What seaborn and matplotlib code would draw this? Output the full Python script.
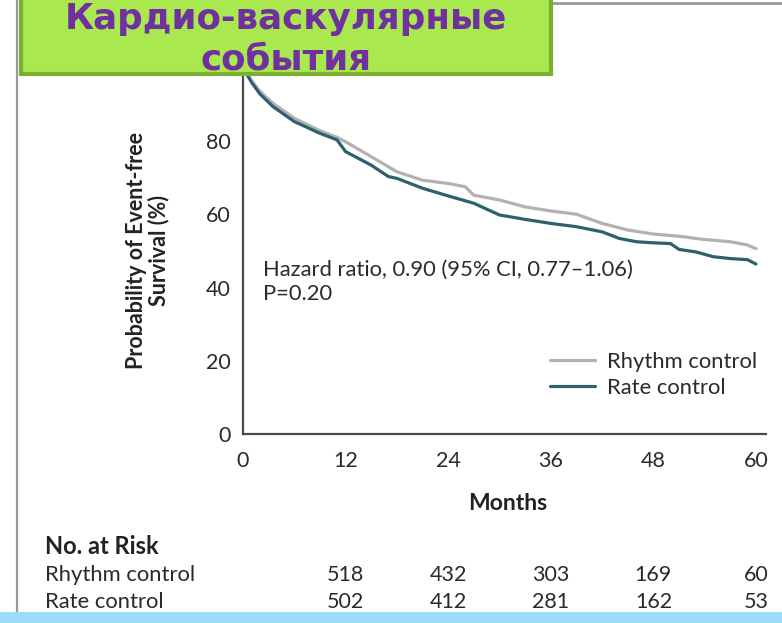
import matplotlib
matplotlib.use("Agg")
import matplotlib.pyplot as plt
from matplotlib.patches import Rectangle
from matplotlib.lines import Line2D
import matplotlib.transforms as mtransforms
import pandas as pd
import seaborn as sns

# Kaplan-Meier style event-free survival (%), by month
rhythm_months = [0, 1, 2, 3.5, 6, 9, 11, 12, 15, 18, 21, 24, 26, 27, 30, 33, 36, 39, 42, 45, 48, 51, 54, 57, 59, 60]
rhythm_surv = [100, 96.5, 93.5, 90.3, 86.2, 82.8, 81.0, 79.8, 75.7, 71.6, 69.3, 68.4, 67.5, 65.2, 63.9, 62.0, 60.9, 60.0, 57.5, 55.7, 54.6, 54.0, 53.1, 52.5, 51.6, 50.6]

rate_months = [0, 1, 2, 3.5, 6, 9, 11, 12, 15, 17, 18, 21, 24, 27, 30, 33, 36, 39, 42, 44, 46, 48, 50, 51, 53, 55, 57, 59, 60]
rate_surv = [100, 96.0, 92.8, 89.4, 85.3, 82.1, 80.3, 77.1, 73.4, 70.3, 69.8, 67.1, 65.0, 63.0, 59.8, 58.6, 57.5, 56.6, 55.2, 53.4, 52.5, 52.2, 52.0, 50.4, 49.7, 48.4, 47.9, 47.6, 46.4]

groups = ["Rhythm control", "Rate control"]
group_colors = ["#b2b2b2", "#2d6170"]

x_ticks = [0, 12, 24, 36, 48, 60]
y_ticks = [0, 20, 40, 60, 80]

risk_months = [12, 24, 36, 48, 60]
risk_rhythm = [518, 432, 303, 169, 60]
risk_rate = [502, 412, 281, 162, 53]

title_lines = ["Кардио-васкулярные", "события"]
hazard_text = "Hazard ratio, 0.90 (95% CI, 0.77\u20131.06)\nP=0.20"

sns.set_theme(style="white")
plt.rcParams["font.family"] = ["Lato", "DejaVu Sans"]

df = pd.concat([
    pd.DataFrame({"month": rhythm_months, "surv": rhythm_surv, "group": groups[0]}),
    pd.DataFrame({"month": rate_months, "surv": rate_surv, "group": groups[1]}),
])

W, H = 782, 623
fig = plt.figure(figsize=(W / 100, H / 100), dpi=100)
fig.patch.set_facecolor("white")

ax_left, ax_bottom_px = 243, 434
px_per_month = 8.55
px_per_pct = 3.6625
xmax, ymax = 61.2, 102
ax_w_px, ax_h_px = xmax * px_per_month, ymax * px_per_pct
ax = fig.add_axes([ax_left / W, (H - ax_bottom_px) / H, ax_w_px / W, ax_h_px / H])

sns.lineplot(data=df, x="month", y="surv", hue="group", hue_order=groups,
             palette=group_colors, linewidth=2.3, estimator=None, sort=True,
             ax=ax, legend=False)

ax.set_xlim(0, xmax)
ax.set_ylim(0, ymax)
ax.set_xticks(x_ticks)
ax.set_yticks(y_ticks)
ax.set_facecolor("white")
for side in ["top", "right"]:
    ax.spines[side].set_visible(False)
for side in ["left", "bottom"]:
    ax.spines[side].set_color("#4a4a4a")
    ax.spines[side].set_linewidth(1.6)
ax.tick_params(axis="both", direction="out", length=7, width=1.6, color="#4a4a4a",
               labelsize=15.5, labelcolor="#2a2a2a", pad=2)
ax.tick_params(axis="x", pad=5)

ax.set_xlabel("Months", fontsize=16.5, fontweight="bold", color="#222222")
ax.xaxis.set_label_coords((508 - ax_left) / ax_w_px, -0.157)
ax.set_ylabel("Probability of Event-free\nSurvival (%)", fontsize=15.5, fontweight="bold",
              color="#222222", linespacing=1.0)
ax.yaxis.set_label_coords((169 - ax_left) / ax_w_px, 0.49)

ax.text((263 - ax_left) / ax_w_px, (ax_bottom_px - 282) / ax_h_px,
        hazard_text, transform=ax.transAxes, fontsize=15.8, color="#2a2a2a",
        va="center", ha="left", linespacing=1.3)

handles = [Line2D([], [], color=c, lw=2.3) for c in group_colors]
leg = ax.legend(handles, groups, loc="lower right", frameon=False, fontsize=15.8,
                bbox_to_anchor=((757 - ax_left) / ax_w_px, (ax_bottom_px - 398) / ax_h_px),
                handlelength=2.05, handletextpad=0.55, labelspacing=0.28, borderpad=0,
                borderaxespad=0)
for t in leg.get_texts():
    t.set_color("#2a2a2a")

# number-at-risk table, aligned to the month axis
trans = mtransforms.blended_transform_factory(ax.transData, fig.transFigure)
fig.text(45 / W, 1 - 546 / H, "No. at Risk", fontsize=17, fontweight="bold",
         color="#222222", va="center", ha="left")
for label, counts, ypx in [(groups[0], risk_rhythm, 575), (groups[1], risk_rate, 602)]:
    fig.text(45 / W, 1 - ypx / H, label, fontsize=15.8, color="#2a2a2a",
             va="center", ha="left")
    for m, n in zip(risk_months, counts):
        fig.text(m, 1 - ypx / H, str(n), transform=trans, fontsize=15.5,
                 color="#2a2a2a", va="center", ha="center")

# slide frame: page border lines and bottom band
fig.add_artist(Line2D([17 / W, 17 / W], [1 - 612 / H, 1.0], transform=fig.transFigure,
                      color="#9a9a9a", lw=1.6, zorder=1))
fig.add_artist(Line2D([550 / W, 1.0], [1 - 3 / H, 1 - 3 / H], transform=fig.transFigure,
                      color="#9a9a9a", lw=2.0, zorder=1))
fig.add_artist(Rectangle((0, 0), 1, 11 / H, transform=fig.transFigure,
                         facecolor="#9ddcfa", edgecolor="none", zorder=5))

# title banner
fig.add_artist(Rectangle((21 / W, 1 - 74 / H), (551 - 21) / W, 80 / H,
                         transform=fig.transFigure, facecolor="#a9e84f",
                         edgecolor="#7cae32", linewidth=3, zorder=10))
for line, base_px in zip(title_lines, [29, 70]):
    fig.text(286 / W, 1 - base_px / H, line, fontsize=25.7, fontweight="bold",
             family=["DejaVu Sans"], color="#7030a0",
             ha="center", va="baseline", zorder=11)

fig.savefig("out.png", dpi=100, facecolor="white")
